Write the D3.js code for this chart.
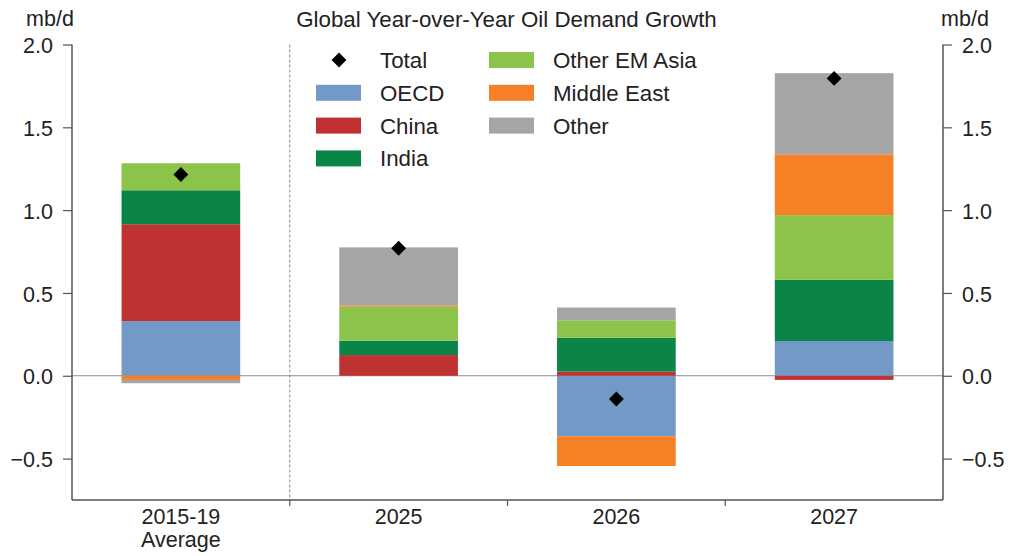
<!DOCTYPE html>
<html><head><meta charset="utf-8">
<script src="https://cdn.jsdelivr.net/npm/d3@7"></script>
<style>
html,body{margin:0;padding:0;background:#fff;}
text{font-family:"Liberation Sans",Arial,sans-serif;fill:#222;}
</style></head>
<body>
<svg id="chart" width="1016" height="556"></svg>
<script>
const categories = ["2015-19\nAverage", "2025", "2026", "2027"];
const seriesNames = ["OECD", "China", "India", "Other EM Asia", "Middle East", "Other"];
const oecd      = [0.33, 0.0, -0.365, 0.21];
const china     = [0.585, 0.125, 0.025, -0.025];
const india     = [0.205, 0.087, 0.205, 0.37];
const otherEM   = [0.163, 0.205, 0.105, 0.39];
const middleEast= [-0.025, 0.008, -0.18, 0.367];
const other     = [-0.02, 0.35, 0.077, 0.49];
const total     = [1.215, 0.77, -0.14, 1.795];
const yTicks = [-0.5, 0.0, 0.5, 1.0, 1.5, 2.0];
const colors = ["#7399c6", "#c03232", "#0a8447", "#8cc34a", "#f58025", "#a5a5a5"];

const seriesValues = [oecd, china, india, otherEM, middleEast, other];
const rows = categories.map((c, i) => {
  const r = {cat: c};
  seriesNames.forEach((s, k) => r[s] = seriesValues[k][i]);
  return r;
});

const svg = d3.select("#chart");
const L = 72, R = 943, T = 44.5, B = 500;
const x = d3.scaleBand().domain(categories).range([L, R]).padding(0);
const y = d3.scaleLinear().domain([-0.75, 2.0]).range([B, T]);
const axisColor = "#555";
const fs = "21.5px";

const stack = d3.stack().keys(seriesNames).offset(d3.stackOffsetDiverging);
const stacked = stack(rows);
const barW = x.bandwidth() * 0.545;

// zero line
svg.append("line").attr("x1", L).attr("x2", R).attr("y1", y(0)).attr("y2", y(0))
  .attr("stroke", "#8a8a8a").attr("stroke-width", 1.2);

// dashed separator
svg.append("line").attr("x1", x(categories[1])).attr("x2", x(categories[1]))
  .attr("y1", T).attr("y2", B).attr("stroke", "#888").attr("stroke-width", 1)
  .attr("stroke-dasharray", "3,2");

// bars
svg.append("g").selectAll("g").data(stacked).join("g")
  .attr("fill", (d, i) => colors[i])
  .selectAll("rect").data(d => d).join("rect")
  .attr("x", d => x(d.data.cat) + (x.bandwidth() - barW) / 2)
  .attr("width", barW)
  .attr("y", d => y(Math.max(d[0], d[1])))
  .attr("height", d => Math.abs(y(d[0]) - y(d[1])));

// totals
const diamond = d3.symbol().type(d3.symbolSquare).size(110);
svg.append("g").selectAll("path").data(total).join("path")
  .attr("d", diamond)
  .attr("transform", (d, i) => `translate(${x(categories[i]) + x.bandwidth() / 2},${y(d)}) rotate(45)`)
  .attr("fill", "#000");

// axes
const yl = svg.append("g").attr("transform", `translate(${L},0)`)
  .call(d3.axisLeft(y).tickValues(yTicks).tickFormat(d3.format(".1f")).tickSize(9).tickPadding(10));
const yr = svg.append("g").attr("transform", `translate(${R},0)`)
  .call(d3.axisRight(y).tickValues(yTicks).tickFormat(d3.format(".1f")).tickSize(9).tickPadding(10));
[yl, yr].forEach(g => {
  g.select(".domain").attr("d", `M0,${T}V${B}`).attr("stroke", axisColor).attr("stroke-width", 1.5);
  g.selectAll(".tick line").attr("stroke", axisColor).attr("stroke-width", 1.2);
  g.selectAll(".tick text").style("font-size", fs).style("fill", "#222")
    .attr("font-family", null).attr("dy", "0.38em");
});
// x axis
const xg = svg.append("g").attr("transform", `translate(0,${B})`);
xg.append("line").attr("x1", L).attr("x2", R).attr("stroke", axisColor).attr("stroke-width", 1.5);
xg.selectAll("line.t").data(categories.slice(1)).join("line").attr("class", "t")
  .attr("x1", d => x(d)).attr("x2", d => x(d)).attr("y1", 0).attr("y2", 6)
  .attr("stroke", axisColor).attr("stroke-width", 1.2);
xg.selectAll("text.l").data(categories).join("text").attr("class", "l")
  .attr("text-anchor", "middle").style("font-size", fs)
  .each(function(d) {
    const lines = d.split("\n");
    d3.select(this).selectAll("tspan").data(lines).join("tspan")
      .attr("x", x(d) + x.bandwidth() / 2)
      .attr("y", (l, i) => 24 + i * 22.7)
      .text(l => l);
  });

// unit labels
svg.append("text").attr("x", 50).attr("y", 26).attr("text-anchor", "middle").style("font-size", fs).text("mb/d");
svg.append("text").attr("x", 965).attr("y", 26).attr("text-anchor", "middle").style("font-size", fs).text("mb/d");

// title
svg.append("text").attr("x", 506.5).attr("y", 26.5).attr("text-anchor", "middle")
  .style("font-size", "22.3px").text("Global Year-over-Year Oil Demand Growth");

// legend
const legendItems = [
  {name: "Total", type: "marker", col: 0, row: 0},
  {name: "OECD", type: "box", color: colors[0], col: 0, row: 1},
  {name: "China", type: "box", color: colors[1], col: 0, row: 2},
  {name: "India", type: "box", color: colors[2], col: 0, row: 3},
  {name: "Other EM Asia", type: "box", color: colors[3], col: 1, row: 0},
  {name: "Middle East", type: "box", color: colors[4], col: 1, row: 1},
  {name: "Other", type: "box", color: colors[5], col: 1, row: 2}
];
const lg = svg.append("g");
const colX = [316, 489], rowY0 = 60, rowH = 32.8;
legendItems.forEach(it => {
  const gx = colX[it.col], gy = rowY0 + it.row * rowH;
  if (it.type === "marker") {
    lg.append("path").attr("d", diamond).attr("fill", "#000")
      .attr("transform", `translate(${gx + 23},${gy}) rotate(45)`);
  } else {
    lg.append("rect").attr("x", gx).attr("y", gy - 8).attr("width", 45).attr("height", 16).attr("fill", it.color);
  }
  lg.append("text").attr("x", gx + 64).attr("y", gy).attr("dy", "0.36em").style("font-size", "22.3px").text(it.name);
});
</script>
</body></html>
